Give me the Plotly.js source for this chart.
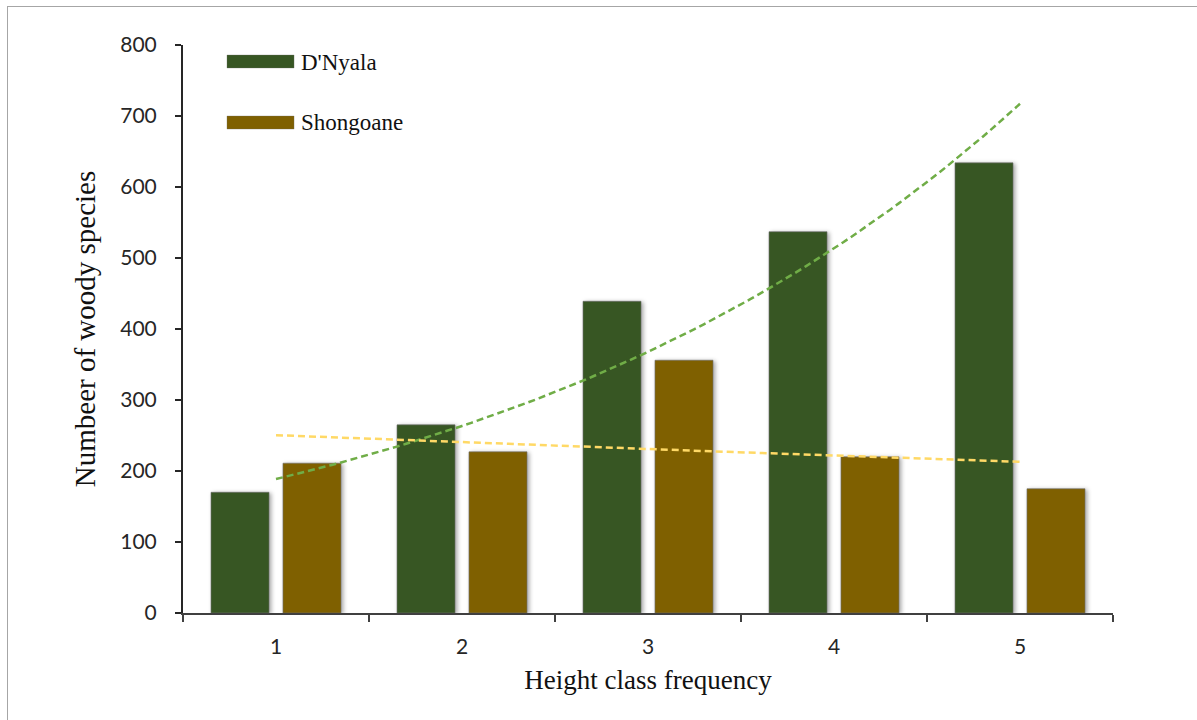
<!DOCTYPE html>
<html>
<head>
<meta charset="utf-8">
<script src="https://cdn.plot.ly/plotly-3.0.1.min.js"></script>
<style>
  html, body { margin: 0; padding: 0; background: #ffffff; }
  #wrap { position: relative; width: 1197px; height: 720px; overflow: hidden; }
  #chart { position: absolute; left: 0; top: 0; width: 1197px; height: 720px; }
  #frame { position: absolute; left: 7px; top: 6px; width: 1200px; height: 730px;
           border-top: 1.5px solid #a6a6a6; border-left: 1.5px solid #a6a6a6; pointer-events: none; }
  .barlayer .point path { filter: drop-shadow(2px 1px 2px rgba(0,0,0,0.35)); }
</style>
</head>
<body>
<div id="wrap">
  <div id="chart"></div>
  <div id="frame"></div>
</div>
<script>
// ---- data ----
const categories = ['1', '2', '3', '4', '5'];
const classPositions = [1, 2, 3, 4, 5];
const dnyala = [170, 265, 439, 537, 634];
const shongoane = [211, 227, 356, 220, 175];
const seriesNames = ["D'Nyala", 'Shongoane'];
const yTicks = [0, 100, 200, 300, 400, 500, 600, 700, 800];

// exponential trendline (least squares on ln y), as Excel does
function expTrend(xs, ys) {
  const n = xs.length;
  const ly = ys.map(v => Math.log(v));
  const mx = xs.reduce((a, b) => a + b, 0) / n;
  const my = ly.reduce((a, b) => a + b, 0) / n;
  let sxy = 0, sxx = 0;
  for (let i = 0; i < n; i++) { sxy += (xs[i] - mx) * (ly[i] - my); sxx += (xs[i] - mx) ** 2; }
  const b = sxy / sxx, a = my - b * mx;
  const tx = [], ty = [];
  const x0 = xs[0], x1 = xs[n - 1], steps = 80;
  for (let k = 0; k <= steps; k++) {
    const x = x0 + (x1 - x0) * k / steps;
    tx.push(x); ty.push(Math.exp(a + b * x));
  }
  return { x: tx, y: ty };
}
const trendD = expTrend(classPositions, dnyala);
const trendS = expTrend(classPositions, shongoane);

const colD = '#375623', colS = '#7f6000';
const serif = '"Liberation Serif", "Times New Roman", serif';
const sans = 'Lato, "Noto Sans", sans-serif';

const traces = [
  { type: 'bar', x: categories, y: dnyala, name: seriesNames[0],
    marker: { color: colD, line: { color: 'rgba(110,110,110,0.6)', width: 1 } }, showlegend: false },
  { type: 'bar', x: categories, y: shongoane, name: seriesNames[1],
    marker: { color: colS, line: { color: 'rgba(110,110,110,0.6)', width: 1 } }, showlegend: false },
  { type: 'scatter', mode: 'lines', x: trendD.x, y: trendD.y, xaxis: 'x2', yaxis: 'y',
    line: { color: '#70ad47', width: 2.5, dash: '7px,4px' }, showlegend: false, hoverinfo: 'skip' },
  { type: 'scatter', mode: 'lines', x: trendS.x, y: trendS.y, xaxis: 'x2', yaxis: 'y',
    line: { color: '#ffd966', width: 2.5, dash: '7px,4px' }, showlegend: false, hoverinfo: 'skip' }
];

const layout = {
  width: 1197, height: 720,
  margin: { l: 183, r: 84, t: 45, b: 107 },
  paper_bgcolor: 'rgba(0,0,0,0)', plot_bgcolor: 'rgba(0,0,0,0)',
  barmode: 'group', bargap: 0.226, bargroupgap: 0.194,
  showlegend: false,
  xaxis: {
    type: 'category', range: [-0.5, 4.5], tickson: 'boundaries',
    showgrid: false, zeroline: false,
    showline: true, linecolor: '#404040', linewidth: 1.5,
    ticks: 'outside', ticklen: 7, tickcolor: '#404040', tickwidth: 1.5,
    ticklabelstandoff: 14,
    tickfont: { family: sans, size: 21, color: '#262626' },
    title: { text: 'Height class frequency', font: { family: serif, size: 27, color: '#111111' }, standoff: 13 }
  },
  xaxis2: { type: 'linear', range: [0.5, 5.5], overlaying: 'x', visible: false },
  yaxis: {
    range: [0, 800], tickvals: yTicks, ticktext: yTicks.map(String),
    showgrid: false, zeroline: false,
    showline: true, linecolor: '#262626', linewidth: 2,
    ticks: 'outside', ticklen: 6, tickcolor: '#262626', tickwidth: 2,
    ticklabelstandoff: 14,
    tickfont: { family: sans, size: 21, color: '#262626' },
    title: { text: 'Numbeer of woody species', font: { family: serif, size: 29, color: '#111111' }, standoff: 16 }
  },
  shapes: [
    { type: 'rect', xref: 'paper', yref: 'paper', x0: 0.0473, x1: 0.1194, y0: 0.9595, y1: 0.9824,
      fillcolor: colD, line: { width: 0.5, color: 'rgba(110,110,110,0.6)' } },
    { type: 'rect', xref: 'paper', yref: 'paper', x0: 0.0473, x1: 0.1194, y0: 0.852, y1: 0.875,
      fillcolor: colS, line: { width: 0.5, color: 'rgba(110,110,110,0.6)' } }
  ],
  annotations: [
    { xref: 'paper', yref: 'paper', x: 0.1247, y: 0.970, xanchor: 'left', yanchor: 'middle',
      text: seriesNames[0], showarrow: false, font: { family: serif, size: 23, color: '#111111' } },
    { xref: 'paper', yref: 'paper', x: 0.1247, y: 0.8627, xanchor: 'left', yanchor: 'middle',
      text: seriesNames[1], showarrow: false, font: { family: serif, size: 23, color: '#111111' } }
  ]
};

Plotly.newPlot('chart', traces, layout, { displayModeBar: false, staticPlot: true });
</script>
</body>
</html>
